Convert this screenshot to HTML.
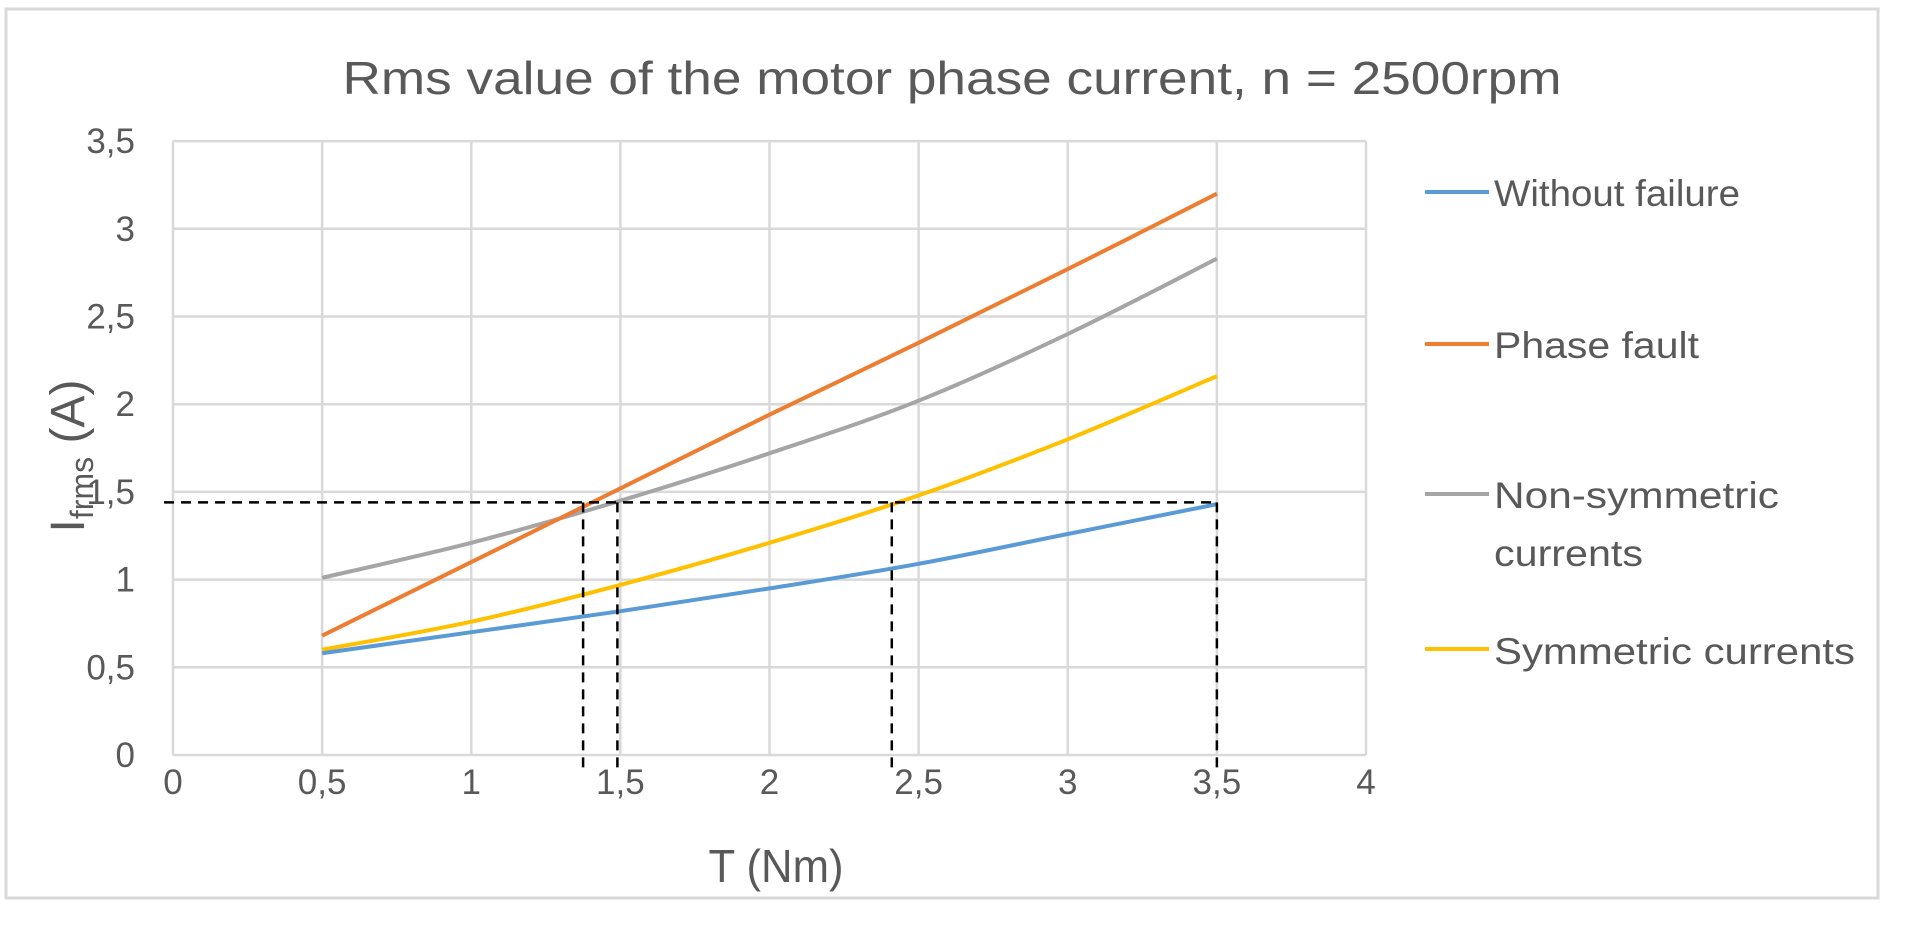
<!DOCTYPE html>
<html><head><meta charset="utf-8"><style>html,body{margin:0;padding:0;background:#fff}svg{display:block}</style></head>
<body>
<svg id="s" width="1911" height="927" xmlns="http://www.w3.org/2000/svg" font-family="Liberation Sans, sans-serif" fill="#595959">
<rect x="6" y="9" width="1872" height="889" fill="#fff" stroke="#d9d9d9" stroke-width="3"/>
<text x="952" y="94" font-size="46" text-anchor="middle" textLength="1219" lengthAdjust="spacingAndGlyphs">Rms value of the motor phase current, n = 2500rpm</text>
<g id="grid" stroke="#d9d9d9" stroke-width="2.5"></g>
<g id="lab" font-size="35"></g>
<text x="776" y="882" font-size="46" text-anchor="middle" textLength="135" lengthAdjust="spacingAndGlyphs">T (Nm)</text>
<text transform="translate(84,456) rotate(-90)" font-size="48" text-anchor="middle">I<tspan font-size="32" dy="9">frms</tspan><tspan dy="-9"> (A)</tspan></text>
<g id="series" fill="none" stroke-width="4" stroke-linejoin="round"></g>
<g id="dash" stroke="#000" stroke-width="2.5" stroke-dasharray="10,7" fill="none"></g>
<g font-size="37">
<line x1="1425" y1="192" x2="1489" y2="192" stroke="#5b9bd5" stroke-width="4"/>
<text x="1494" y="206" textLength="246" lengthAdjust="spacingAndGlyphs">Without failure</text>
<line x1="1425" y1="344" x2="1489" y2="344" stroke="#ed7d31" stroke-width="4"/>
<text x="1494" y="358" textLength="205" lengthAdjust="spacingAndGlyphs">Phase fault</text>
<line x1="1425" y1="494" x2="1489" y2="494" stroke="#a5a5a5" stroke-width="4"/>
<text x="1494" y="508" textLength="285" lengthAdjust="spacingAndGlyphs">Non-symmetric</text>
<text x="1494" y="566" textLength="149" lengthAdjust="spacingAndGlyphs">currents</text>
<line x1="1425" y1="649" x2="1489" y2="649" stroke="#ffc000" stroke-width="4"/>
<text x="1494" y="664" textLength="361" lengthAdjust="spacingAndGlyphs">Symmetric currents</text>
</g>
</svg>
<script>
var NS="http://www.w3.org/2000/svg";
function X(v){return 173+v*298.25}function Y(v){return 755-v*175.4}
function el(p,t,a,txt){var e=document.createElementNS(NS,t);for(var k in a)e.setAttribute(k,a[k]);if(txt!=null)e.textContent=txt;document.getElementById(p).appendChild(e);return e}
function fmt(v){return (v%1==0)?String(v):String(v).replace('.',',')}
for(var i=0;i<=8;i++){var v=i*0.5;el('grid','line',{x1:X(v),y1:Y(0),x2:X(v),y2:Y(3.5)});}
for(var i=0;i<=7;i++){var v=i*0.5;el('grid','line',{x1:X(0),y1:Y(v),x2:X(4),y2:Y(v)});
 el('lab','text',{x:135,y:Y(v)+12,'text-anchor':'end'},fmt(v));}
for(var i=0;i<=8;i++){var v=i*0.5;el('lab','text',{x:X(v),y:794,'text-anchor':'middle'},fmt(v));}
var xs=[0.5,1,1.5,2,2.5,3,3.5];
var D=[["#a5a5a5",[1.01,1.21,1.45,1.72,2.02,2.4,2.83]],["#ed7d31",[0.68,1.1,1.52,1.94,2.35,2.77,3.2]],["#ffc000",[0.6,0.76,0.97,1.21,1.48,1.8,2.16]],["#5b9bd5",[0.58,0.7,0.82,0.95,1.09,1.26,1.43]]];
D.forEach(function(d){var P=xs.map(function(x,i){return [X(x),Y(d[1][i])]});
 var p="M"+P[0][0]+","+P[0][1];
 for(var i=0;i<P.length-1;i++){var p0=P[Math.max(i-1,0)],p1=P[i],p2=P[i+1],p3=P[Math.min(i+2,P.length-1)];
  var c1=[p1[0]+(p2[0]-p0[0])/6,p1[1]+(p2[1]-p0[1])/6],c2=[p2[0]-(p3[0]-p1[0])/6,p2[1]-(p3[1]-p1[1])/6];
  p+="C"+c1[0].toFixed(1)+","+c1[1].toFixed(1)+" "+c2[0].toFixed(1)+","+c2[1].toFixed(1)+" "+p2[0].toFixed(1)+","+p2[1].toFixed(1);}
 el('series','path',{d:p,stroke:d[0]});});
var yh=Y(1.44);
el('dash','line',{x1:X(-0.03),y1:yh,x2:X(3.5),y2:yh});
[1.375,1.49,2.41,3.5].forEach(function(x){el('dash','line',{x1:X(x),y1:yh,x2:X(x),y2:770});});
</script>
</body></html>
